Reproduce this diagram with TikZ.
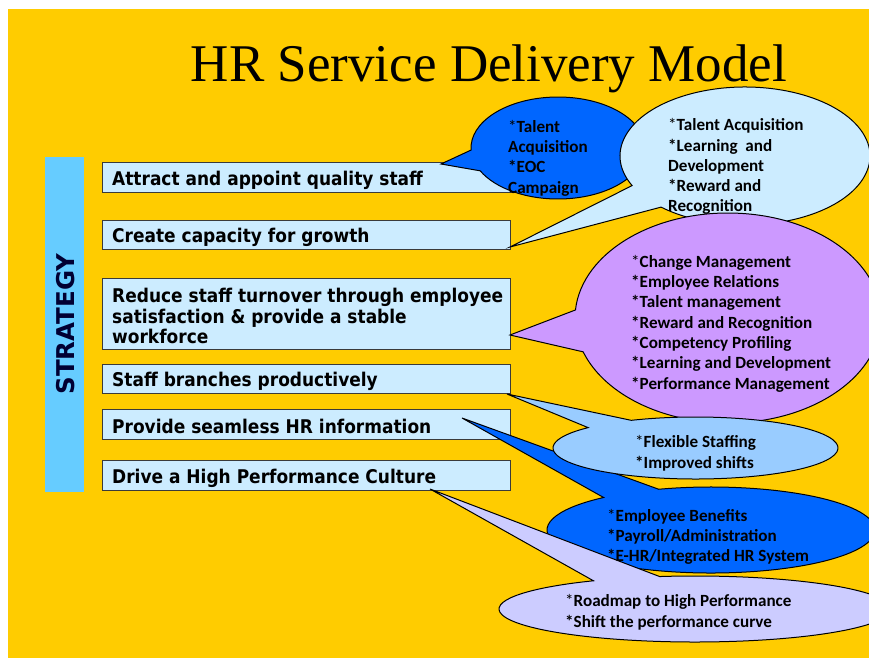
\documentclass[tikz,border=0pt]{standalone}
\usepackage{fontspec}
\setmainfont{Liberation Serif}
\newfontfamily\boxfont{DejaVu Sans}
\newfontfamily\boxnarrow{DejaVu Sans}[FakeStretch=0.9]
\newfontfamily\noteFont{Carlito}
\definecolor{slidebg}{HTML}{FFCC00}
\definecolor{boxfill}{HTML}{CCECFF}
\definecolor{boxline}{HTML}{3A3A3A}
\definecolor{stripblue}{HTML}{66CCFF}
\definecolor{navytext}{HTML}{000033}
\definecolor{ballblue}{HTML}{0066FF}
\definecolor{ballpale}{HTML}{CCECFF}
\definecolor{ballpurple}{HTML}{CC99FF}
\definecolor{ballsky}{HTML}{99CCFF}
\definecolor{balllav}{HTML}{CCCCFF}
\begin{document}
\begin{tikzpicture}[x=1pt,y=-1pt,
  box/.style={draw=boxline, line width=1.2pt, fill=boxfill, minimum width=408pt,
    anchor=north west, inner sep=0pt},
  boxtext/.style={anchor=north west, inner sep=0pt, align=left,
    font=\boxnarrow\bfseries\fontsize{18.9}{19.7}\selectfont},
  balloon/.style={draw=black, line width=1pt, line join=miter},
  notetext/.style={anchor=north west, inner sep=0pt, align=left,
    font=\noteFont\bfseries\fontsize{17.1}{20.3}\selectfont},
  notewide/.style={notetext, font=\noteFont\bfseries\fontsize{17.1}{21}\selectfont},
]
% page and slide background
\path[clip] (0,0) rectangle (869,658);
\fill[white] (0,0) rectangle (869,658);
\fill[slidebg] (8,9) rectangle (869,658);

% title
\node[font=\fontsize{53}{60}\selectfont, anchor=base, inner sep=0pt] (title) at (489,82) {HR Service Delivery Model};

% strategy strip
\node[fill=stripblue, minimum width=39pt, minimum height=335pt, anchor=north west, inner sep=0pt] (strip) at (45,157) {};
\node[rotate=90, inner sep=0pt, text height=17.9pt, text depth=0pt, text=navytext,
  font=\boxfont\bfseries\fontsize{24.5}{28}\selectfont] (striplabel) at (65.5,324) {STRATEGY};

% strategy boxes
\node[box, minimum height=30pt] (b1) at (102,162) {};
\node[box, minimum height=29pt] (b2) at (102,220) {};
\node[box, minimum height=71pt] (b3) at (102,278) {};
\node[box, minimum height=29pt] (b4) at (102,364) {};
\node[box, minimum height=30pt] (b5) at (102,409) {};
\node[box, minimum height=30pt] (b6) at (102,460) {};

\node[boxtext] (t1) at (112,170.5) {\strut Attract and appoint quality staff};
\node[boxtext] (t2) at (112,228.2) {\strut Create capacity for growth};
\node[boxtext] (t3) at (112,287.9) {\strut Reduce staff turnover through employee\\satisfaction \& provide a stable\\workforce};
\node[boxtext] (t4) at (112,372.2) {\strut Staff branches productively};
\node[boxtext] (t5) at (112,418.7) {\strut Provide seamless HR information};
\node[boxtext] (t6) at (112,469.2) {\strut Drive a High Performance Culture};

% callout centres and pointer tips
\coordinate (c1) at (558,148);  \coordinate (p1) at (441,164);
\coordinate (c2) at (745,156);  \coordinate (p2) at (510,247);
\coordinate (c3) at (728,318);  \coordinate (p3) at (510,335);
\coordinate (c4) at (711,530);  \coordinate (p4) at (462,418);
\coordinate (c5) at (695.5,448); \coordinate (p5) at (507,394);
\coordinate (c6) at (695,609);  \coordinate (p6) at (430,489);

% oval callouts
\path[balloon, fill=ballblue] (p1) -- ([shift={(177.7:87 and 51)}]c1)
  arc[start angle=177.7, end angle=513.4, x radius=87, y radius=51] -- cycle;
\path[balloon, fill=ballpale] (p2) -- ([shift={(154.6:125 and 69)}]c2)
  arc[start angle=154.6, end angle=492.2, x radius=125, y radius=69] -- cycle;
\path[balloon, fill=ballpurple] (p3) -- ([shift={(184.4:153 and 105)}]c3)
  arc[start angle=184.4, end angle=521.2, x radius=153, y radius=105] -- cycle;
\path[balloon, fill=ballblue] (p4) -- ([shift={(251.4:164 and 43)}]c4)
  arc[start angle=251.4, end angle=589.1, x radius=164, y radius=43] -- cycle;
\path[balloon, fill=ballsky] (p5) -- ([shift={(243.2:142.5 and 31)}]c5)
  arc[start angle=243.2, end angle=581.1, x radius=142.5, y radius=31] -- cycle;
\path[balloon, fill=balllav] (p6) -- ([shift={(259.6:196 and 33)}]c6)
  arc[start angle=259.6, end angle=598.8, x radius=196, y radius=33] -- cycle;

% callout texts
\node[notetext] (n1) at (508,117.8) {\strut{\mdseries *}Talent\\Acquisition\\*EOC\\Campaign};
\node[notetext] (n2) at (668,116.3) {\strut{\mdseries *}Talent Acquisition\\*Learning\ \ and\\Development\\*Reward and\\Recognition};
\node[notetext] (n3) at (631,252.8) {\strut{\mdseries *}Change Management\\*Employee Relations\\*Talent management\\*Reward and Recognition\\*Competency Profiling\\*Learning and Development\\*Performance Management};
\node[notewide] (n5) at (635,432.3) {\strut{\mdseries *}Flexible Staffing\\*Improved shifts};
\node[notetext] (n4) at (607,506.8) {\strut{\mdseries *}Employee Benefits\\*Payroll/Administration\\*E-HR/Integrated HR System};
\node[notewide] (n6) at (565,591.3) {\strut{\mdseries *}Roadmap to High Performance\\*Shift the performance curve};
\end{tikzpicture}
\end{document}
